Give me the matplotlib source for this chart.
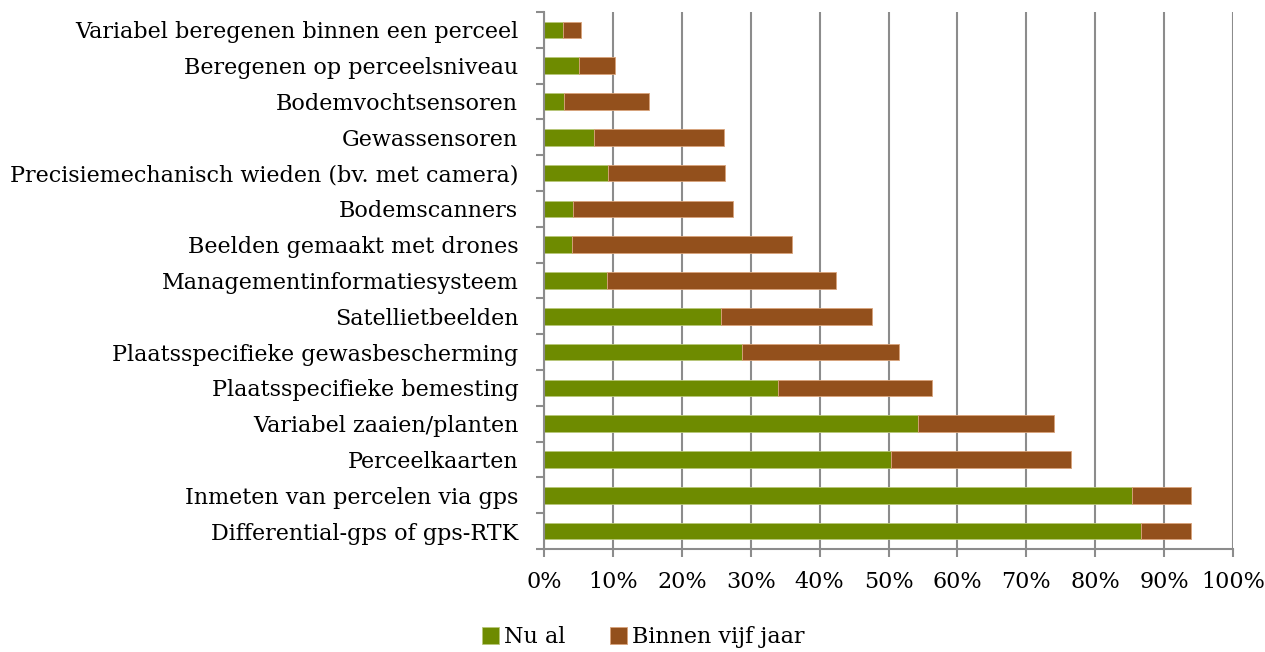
import numpy as np
import matplotlib.pyplot as plt
from matplotlib.ticker import MultipleLocator, FixedLocator, PercentFormatter

plt.rcParams['font.family'] = ['DejaVu Serif']

categories = [
    "Variabel beregenen binnen een perceel",
    "Beregenen op perceelsniveau",
    "Bodemvochtsensoren",
    "Gewassensoren",
    "Precisiemechanisch wieden (bv. met camera)",
    "Bodemscanners",
    "Beelden gemaakt met drones",
    "Managementinformatiesysteem",
    "Satellietbeelden",
    "Plaatsspecifieke gewasbescherming",
    "Plaatsspecifieke bemesting",
    "Variabel zaaien/planten",
    "Perceelkaarten",
    "Inmeten van percelen via gps",
    "Differential-gps of gps-RTK",
]
nu_al = [2.8, 5.1, 2.9, 7.3, 9.3, 4.2, 4.1, 9.1, 25.7, 28.7, 34.0, 54.3, 50.4, 85.3, 86.6]
totaal = [5.4, 10.3, 15.2, 26.1, 26.3, 27.4, 36.0, 42.4, 47.6, 51.5, 56.3, 74.0, 76.5, 93.9, 93.9]
binnen_vijf = [t - n for t, n in zip(totaal, nu_al)]

green = '#6e8b00'
brown = '#93501c'
grid = '#8c8c8c'

fig = plt.figure(figsize=(12.65, 6.52), dpi=100)
ax = fig.add_axes([544/1265, 1 - 549/652, 689/1265, 537/652])

y = np.arange(len(categories))
ax.barh(y, nu_al, height=0.46, color=green, edgecolor='#b8c77a', linewidth=0.6, label='Nu al')
ax.barh(y, binnen_vijf, left=nu_al, height=0.46, color=brown, edgecolor='#d9a37a', linewidth=0.6,
        label='Binnen vijf jaar')

ax.set_xlim(0, 100)
ax.set_ylim(len(categories) - 0.5, -0.5)
ax.xaxis.set_major_locator(MultipleLocator(10))
ax.xaxis.set_major_formatter(PercentFormatter(decimals=0))
ax.set_yticks(y)
ax.set_yticklabels(categories)
ax.yaxis.set_minor_locator(FixedLocator(np.arange(-0.5, len(categories), 1)))
ax.tick_params(axis='y', which='major', length=0, pad=18.5, labelsize=16)
ax.tick_params(axis='y', which='minor', length=6, color=grid, width=1.5)
ax.tick_params(axis='x', length=6, color=grid, width=1.5, labelsize=16, pad=10)

ax.grid(axis='x', color=grid, linewidth=1.5)
ax.set_axisbelow(True)
for s in ['top', 'right']:
    ax.spines[s].set_visible(False)
for s in ['left', 'bottom']:
    ax.spines[s].set_color(grid)
    ax.spines[s].set_linewidth(1.5)

fig.legend(loc='center', bbox_to_anchor=(643/1265, 1 - 637/652), ncol=2, frameon=False,
           fontsize=16, handlelength=0.8, handleheight=0.8, handletextpad=0.2, columnspacing=2.0)

fig.savefig('out.png', dpi=100)
